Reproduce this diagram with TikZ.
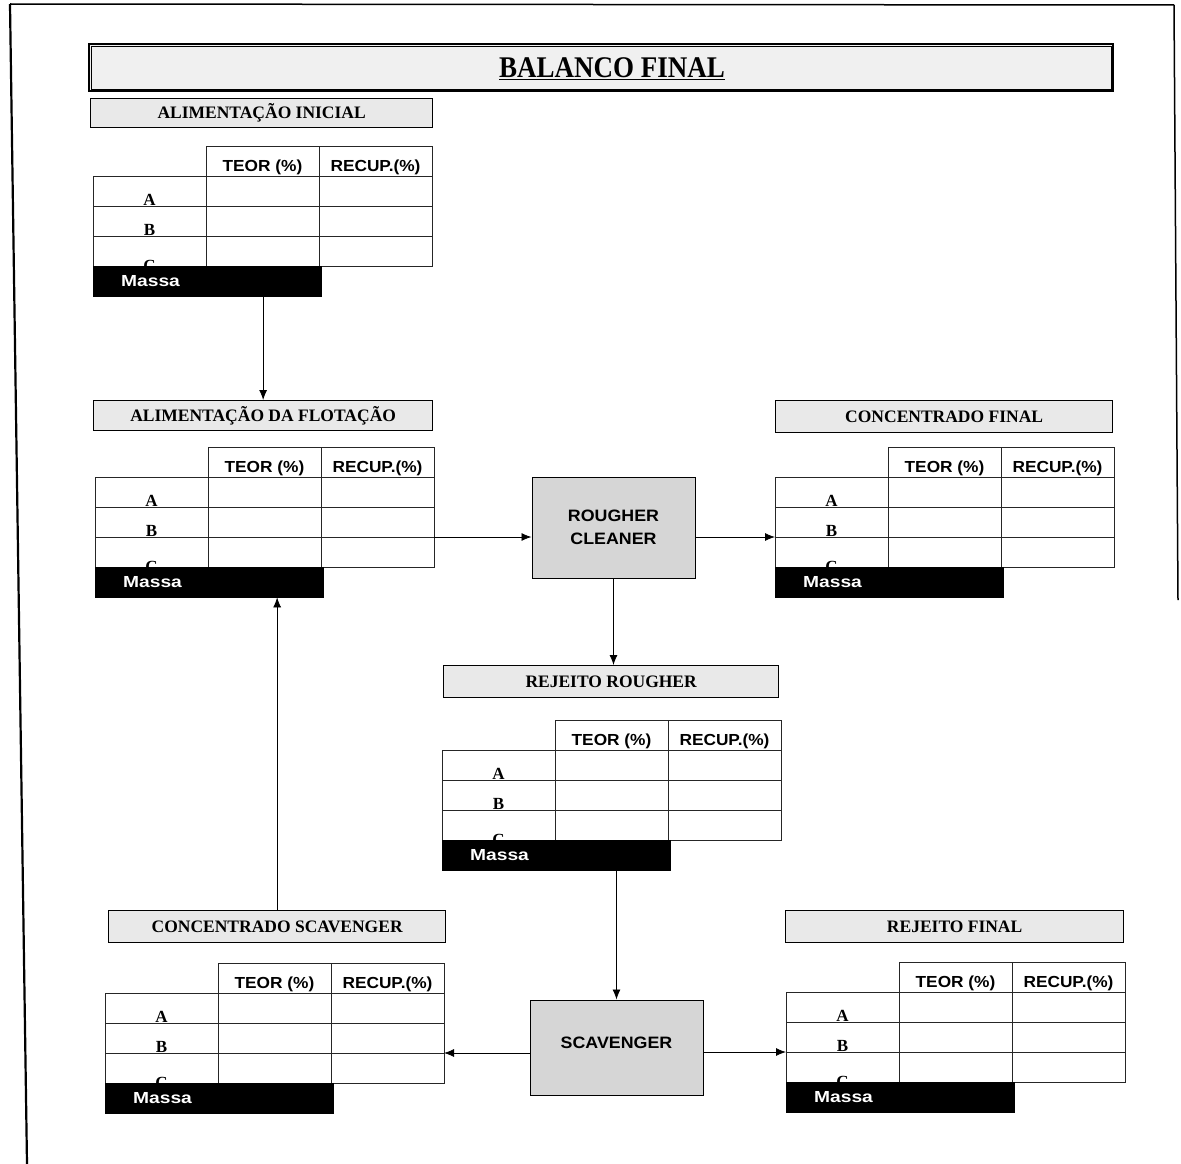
\documentclass[tikz,border=0pt]{standalone}
\usepackage{fontspec}
\setmainfont{Liberation Serif}
\setsansfont{Liberation Sans}
\usetikzlibrary{arrows.meta}

% widened bold sans text
\newcommand{\wsans}[2][1.08]{\scalebox{#1}[1]{\sffamily\bfseries #2}}

\begin{document}
\begin{tikzpicture}[x=1pt,y=-1pt,
  tline/.style={line width=1pt, black!85},
  arr/.style={-{Latex[length=10pt,width=8pt]}, line width=0.8pt},
  lab/.style={draw, line width=1.3pt, fill=gray!17, inner sep=0pt, anchor=north west,
    font=\fontsize{17.5}{17.5}\selectfont\bfseries},
  proc/.style={draw, line width=1pt, fill=gray!32, inner sep=0pt, align=center,
    font=\fontsize{16.5}{23}\selectfont},
  hdr/.style={anchor=base, inner sep=0pt, font=\fontsize{16}{16}\selectfont},
  rowlab/.style={anchor=base, inner sep=0pt, font=\fontsize{17}{17}\selectfont\bfseries},
  massabar/.style={draw=black, fill=black, anchor=north west, inner sep=0pt,
    minimum width=228pt, minimum height=30pt},
  massatxt/.style={anchor=west, inner sep=0pt, text=white, font=\fontsize{16}{16}\selectfont},
  datatable/.pic={
    % header cells and body grid
    \draw[tline] (113,-29.5) rectangle (339,0);
    \draw[tline] (0,0) rectangle (339,90);
    \draw[tline] (0,30) -- (339,30) (0,60) -- (339,60);
    \draw[tline] (113,-29.5) -- (113,90) (226,-29.5) -- (226,90);
    \node[hdr] at (169.5,-5) {\wsans{TEOR (\%)}};
    \node[hdr] at (282.5,-5) {\wsans{RECUP.(\%)}};
    \node[rowlab] at (56.5,29.5) {A};
    \node[rowlab] at (56.5,59.5) {B};
    \node[rowlab] at (56.5,95) {C};
    % mass bar over the lower left corner
    \node[massabar] (-massa) at (0,90) {};
    \node[massatxt] at (28,105) {\wsans[1.2]{Massa}};
    \coordinate (-bcl) at (0,60);
    \coordinate (-bcr) at (339,60);
  }]
\useasboundingbox (0,0) rectangle (1181,1164);

% sheet edges
\draw[line width=1.5pt] (10,4) -- (1174,5);
\draw[line width=2.2pt] (10,4) -- (27,1164);
\draw[line width=1.5pt] (1174,5) -- (1178,600);

% title bar
\node[draw, line width=2pt, fill=gray!12, anchor=north west, minimum width=1024pt,
  minimum height=47pt, inner sep=0pt] (title) at (88,43) {};
\draw[line width=0.6pt] ([shift={(3pt,-3pt)}]title.north west) rectangle ([shift={(-3pt,3pt)}]title.south east);
\node[font=\fontsize{30}{30}\selectfont\bfseries, inner sep=0pt] (titletxt) at (612,69)
  {\scalebox{0.9}[1]{\underline{BALANCO FINAL}}};

% stream labels
\node[lab, minimum width=342pt, minimum height=29pt] (lab1) at (90,98)  {ALIMENTAÇÃO INICIAL};
\node[lab, minimum width=339pt, minimum height=30pt] (lab2) at (93,400) {ALIMENTAÇÃO DA FLOTAÇÃO};
\node[lab, minimum width=337pt, minimum height=32pt] (lab3) at (775,400) {CONCENTRADO FINAL};
\node[lab, minimum width=335pt, minimum height=32pt] (lab4) at (443,665) {REJEITO ROUGHER};
\node[lab, minimum width=337pt, minimum height=32pt] (lab5) at (108,910) {CONCENTRADO SCAVENGER};
\node[lab, minimum width=338pt, minimum height=32pt] (lab6) at (785,910) {REJEITO FINAL};

% data tables
\pic (t1) at (93,176)  {datatable};
\pic (t2) at (95,477)  {datatable};
\pic (t3) at (775,477) {datatable};
\pic (t4) at (442,750) {datatable};
\pic (t5) at (105,993) {datatable};
\pic (t6) at (786,992) {datatable};

% flotation stages
\node[proc, minimum width=163pt, minimum height=101pt] (rough) at (613.5,527.5)
  {\wsans{ROUGHER}\\\wsans{CLEANER}};
\node[proc, minimum width=173pt, minimum height=95pt] (scav) at (616.5,1047.5)
  {\raisebox{9pt}{\wsans{SCAVENGER}}};

% streams
\draw[arr] (t1-massa.south -| lab2.north) -- (lab2.north);
\draw[arr] (t2-bcr) -- (t2-bcr -| rough.west);
\draw[arr] (rough.east |- t3-bcl) -- (t3-bcl);
\draw[arr] (rough.south) -- (rough.south |- lab4.north);
\draw[arr] (scav.north |- t4-massa.south) -- (scav.north);
\draw[arr] (scav.west |- t5-bcr) -- (t5-bcr);
\draw[arr] (scav.east |- t6-bcl) -- (t6-bcl);
\draw[arr] (lab5.north) -- (lab5.north |- t2-massa.south);
\end{tikzpicture}
\end{document}
